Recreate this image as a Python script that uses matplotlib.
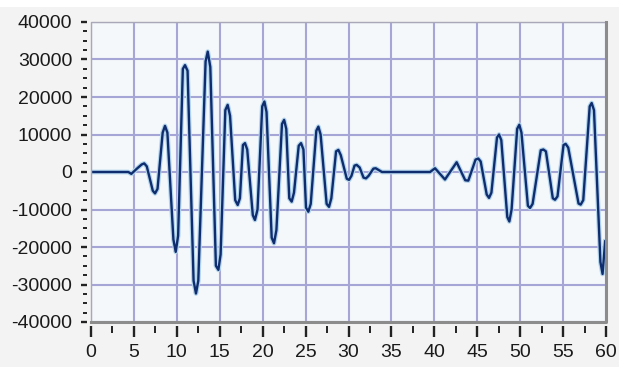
import matplotlib
matplotlib.use("Agg")
import matplotlib.pyplot as plt
from matplotlib.patches import Rectangle
from matplotlib.ticker import MultipleLocator

# waveform points (turning points plus shoulders)
t = [0, 4.35, 4.7, 5.3, 5.9, 6.2, 6.5, 7.2, 7.46, 7.75, 8.35, 8.62, 8.9,
     9.6, 9.87, 10.15, 10.7, 10.95, 11.25, 11.95, 12.23, 12.5, 13.35, 13.6,
     13.9, 14.55, 14.84, 15.1, 15.65, 15.92, 16.2, 16.8, 17.09, 17.35, 17.7,
     17.94, 18.2, 18.85, 19.1, 19.4, 19.95, 20.2, 20.45, 21.05, 21.32, 21.6,
     22.25, 22.5, 22.75, 23.1, 23.38, 23.65, 24.2, 24.47, 24.75, 25.05,
     25.32, 25.6, 26.25, 26.49, 26.75, 27.45, 27.73, 28.0, 28.55, 28.82,
     29.1, 29.8, 30.06, 30.35, 30.7, 30.95, 31.3, 31.75, 32.04, 32.35, 32.9,
     33.17, 33.9, 39.5, 40.08, 41.24, 42.6, 43.6, 43.96, 44.8, 45.12, 45.4,
     46.1, 46.37, 46.65, 47.3, 47.54, 47.8, 48.5, 48.74, 49.0, 49.65, 49.9,
     50.15, 50.9, 51.15, 51.45, 52.4, 52.7, 53.0, 53.8, 54.06, 54.35, 55.05,
     55.3, 55.6, 56.8, 57.05, 57.35, 58.1, 58.33, 58.6, 59.35, 59.6, 59.9]
amp = [0, 0, -500, 800, 2000, 2300, 1500, -5000, -5700, -4500, 10500, 12300,
       10500, -18000, -21300, -17000, 27500, 28500, 27000, -29000, -32400,
       -29000, 29500, 32100, 28000, -25000, -26100, -22000, 16500, 17900,
       15000, -7500, -8800, -7000, 7200, 7700, 6000, -11500, -12800, -10000,
       17500, 18800, 16000, -17500, -19000, -15500, 12800, 13900, 11500,
       -7000, -7900, -5500, 7000, 7700, 6000, -9500, -10600, -8500, 11000,
       12100, 10000, -8500, -9300, -7000, 5500, 5900, 4500, -1800, -2100,
       -1000, 1700, 1900, 1200, -1500, -1700, -1000, 900, 1000, 0, 0, 1000,
       -2000, 2600, -2200, -2300, 3300, 3600, 2800, -6000, -6900, -5500, 9200,
       10000, 8500, -12000, -13200, -10000, 11500, 12600, 10500, -9000,
       -9600, -8500, 5800, 6000, 5500, -7000, -7400, -6500, 7200, 7500, 6500,
       -8400, -8700, -7500, 17500, 18400, 16500, -24000, -27200, -18500]

x_ticks = list(range(0, 61, 5))
y_ticks = list(range(-40000, 40001, 10000))

plt.rcParams['font.family'] = ['Liberation Sans', 'DejaVu Sans']
plt.rcParams['axes.unicode_minus'] = False

fig = plt.figure(figsize=(6.19, 3.67), dpi=100, facecolor='white')
# light grey panel behind the graph
fig.patches.append(Rectangle((0, 0), 1, 1 - 7 / 367, transform=fig.transFigure,
                             facecolor='#f3f3f3', edgecolor='none', zorder=-10))

ax = fig.add_axes([91 / 619, 45 / 367, 515 / 619, 300 / 367])
ax.set_facecolor('#f4f8fa')

ax.plot(t, amp, color='#b2d4ec', lw=3.4, zorder=3)
ax.plot(t, amp, color='#0f2d6e', lw=1.7, zorder=4)

ax.set_xlim(0, 60)
ax.set_ylim(-40000, 40000)
ax.set_xticks(x_ticks)
ax.set_yticks(y_ticks)
ax.xaxis.set_minor_locator(MultipleLocator(2.5))
ax.yaxis.set_minor_locator(MultipleLocator(2500))

ax.grid(True, which='major', color='#a6a6d6', lw=1.5, zorder=1)
ax.set_axisbelow(True)

for side in ['left', 'bottom']:
    ax.spines[side].set_position(('outward', 3))
for s in ax.spines.values():
    s.set_visible(False)

ax.tick_params(axis='y', which='major', length=4.5, width=1.7, pad=6,
               color='#222222', labelsize=14, labelcolor='#1a1a1a')
ax.tick_params(axis='y', which='minor', length=3, width=1.4, color='#222222')
ax.tick_params(axis='x', which='major', length=8, width=1.7, pad=5,
               color='#222222', labelsize=14, labelcolor='#1a1a1a')
ax.tick_params(axis='x', which='minor', length=5, width=1.4, color='#222222')

# frame: thin on top/left, heavier grey on right/bottom
ax.plot([0, 0, 1], [0, 1, 1], transform=ax.transAxes, color='#a8a8b8',
        lw=1.0, clip_on=False, zorder=5)
ax.plot([0, 1, 1], [0, 0, 1], transform=ax.transAxes, color='#8c8c8c',
        lw=2.2, clip_on=False, zorder=5)

fig.savefig('out.png', dpi=100, facecolor=fig.get_facecolor())
